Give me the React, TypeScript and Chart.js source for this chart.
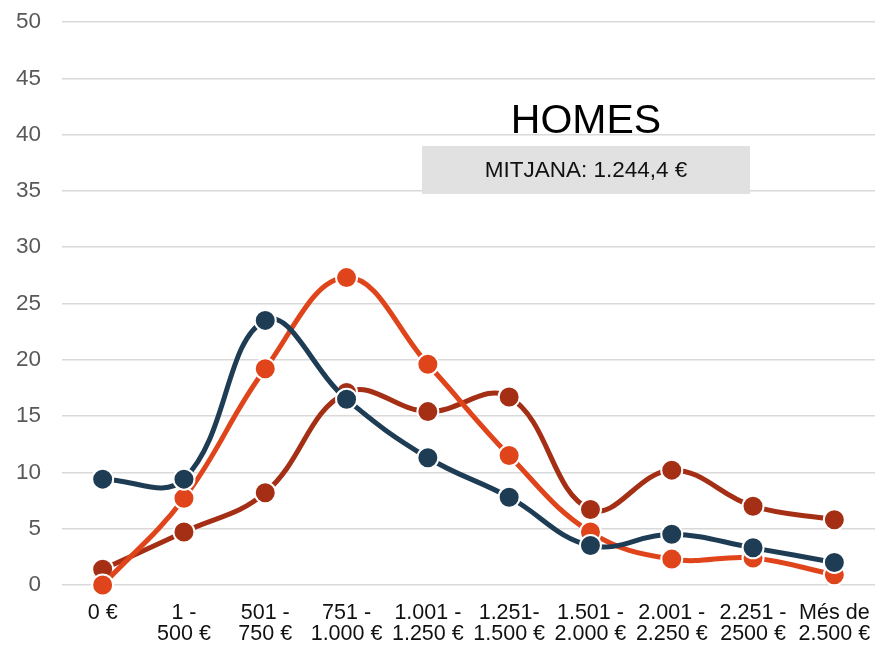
import React, { useEffect, useRef } from "react";
import { Chart, registerables } from "chart.js";

Chart.register(...registerables);

const categories: (string | string[])[] = [
  "0 €",
  ["1 -", "500 €"],
  ["501 -", "750 €"],
  ["751 -", "1.000 €"],
  ["1.001 -", "1.250 €"],
  ["1.251-", "1.500 €"],
  ["1.501 -", "2.000 €"],
  ["2.001 -", "2.250 €"],
  ["2.251 -", "2500 €"],
  ["Més de", "2.500 €"],
];

const seriesBlue = [9.4, 9.4, 23.5, 16.5, 11.3, 7.8, 3.5, 4.5, 3.3, 2.0];
const seriesOrange = [0.0, 7.7, 19.2, 27.3, 19.6, 11.5, 4.7, 2.3, 2.4, 0.9];
const seriesRed = [1.4, 4.7, 8.2, 17.1, 15.4, 16.7, 6.7, 10.2, 7.0, 5.8];

const titleText = "HOMES";
const boxText = "MITJANA: 1.244,4 €";

const FONT = "'Liberation Sans', Arial, sans-serif";

const overlayPlugin = {
  id: "overlay",
  afterDatasetsDraw(chart: any) {
    const ctx = chart.ctx as CanvasRenderingContext2D;
    ctx.save();
    ctx.fillStyle = "#000000";
    ctx.font = `41px ${FONT}`;
    ctx.textAlign = "center";
    ctx.textBaseline = "alphabetic";
    ctx.fillText(titleText, 586, 133);
    ctx.fillStyle = "#e0e1e0";
    ctx.fillRect(422, 146, 328, 48);
    ctx.fillStyle = "#111111";
    ctx.font = `22.5px ${FONT}`;
    ctx.textBaseline = "middle";
    ctx.fillText(boxText, 586, 171);
    ctx.restore();
  },
};

function makeDataset(label: string, data: number[], color: string) {
  return {
    label,
    data,
    borderColor: color,
    backgroundColor: color,
    borderWidth: 5,
    pointRadius: 10.5,
    pointHoverRadius: 10.5,
    pointBackgroundColor: color,
    pointBorderColor: "#ffffff",
    pointBorderWidth: 2,
    tension: 0.4,
    fill: false,
    clip: false as any,
  };
}

export default function App() {
  const canvasRef = useRef<HTMLCanvasElement | null>(null);

  useEffect(() => {
    document.body.style.margin = "0";
    const canvas = canvasRef.current;
    if (!canvas) return;
    const chart = new Chart(canvas, {
      type: "line",
      data: {
        labels: categories as any,
        datasets: [
          makeDataset("Blue", seriesBlue, "#1e3d54"),
          makeDataset("Orange", seriesOrange, "#e0441b"),
          makeDataset("Red", seriesRed, "#a52f15"),
        ],
      },
      options: {
        animation: false,
        responsive: false,
        maintainAspectRatio: false,
        layout: { autoPadding: false, padding: { top: 22, right: 1, left: 0, bottom: 0 } },
        plugins: {
          legend: { display: false },
          title: { display: false },
          tooltip: { enabled: false },
        },
        scales: {
          x: {
            offset: true,
            grid: { display: false, drawTicks: true, tickLength: 17 },
            border: { display: false },
            ticks: {
              color: "#111111",
              font: { family: FONT, size: 21.5, lineHeight: 1.0 },
              padding: 0,
              maxRotation: 0,
              autoSkip: false,
            },
            afterFit(scale: any) {
              scale.height = 67;
              scale.paddingLeft = 0;
              scale.paddingRight = 0;
            },
          },
          y: {
            min: 0,
            max: 50,
            grid: { color: "#d9d9d9", lineWidth: 1.5, drawTicks: false },
            border: { display: false },
            ticks: {
              stepSize: 5,
              color: "#595959",
              font: { family: FONT, size: 22.5 },
              padding: 21,
            },
            afterFit(scale: any) {
              scale.width = 62;
              scale.paddingTop = 0;
              scale.paddingBottom = 0;
            },
          },
        },
      },
      plugins: [overlayPlugin],
    });
    return () => chart.destroy();
  }, []);

  return (
    <div style={{ position: "relative", width: 876, height: 652 }}>
      <canvas ref={canvasRef} width={876} height={652} style={{ display: "block" }} />
    </div>
  );
}
